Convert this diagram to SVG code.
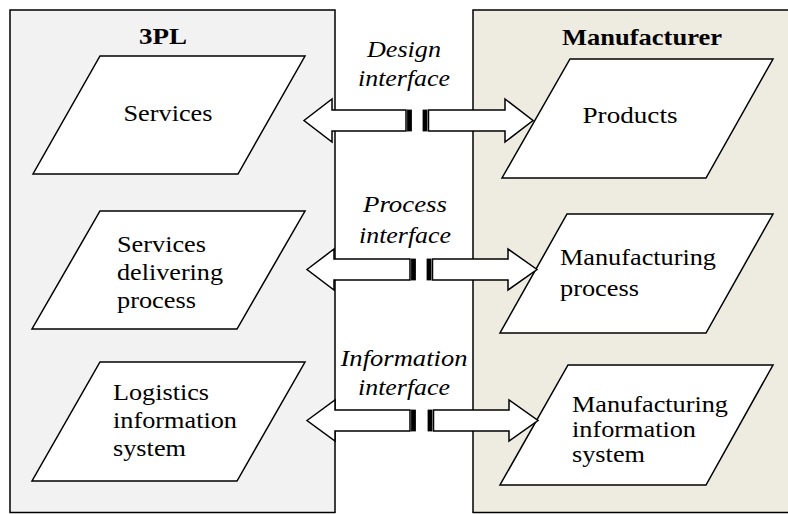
<svg xmlns="http://www.w3.org/2000/svg" width="788" height="514" viewBox="0 0 788 514">
<style>
.bg{fill:#ffffff}
.lane{stroke:#000;stroke-width:1.5}
.para{fill:#fff;stroke:#000;stroke-width:1.5;stroke-linejoin:miter}
.arr{fill:#fff;stroke:#000;stroke-width:1.5;stroke-linejoin:miter}
.stripe{fill:#000;stroke:#000;stroke-width:0.8}
text{font-family:"Liberation Serif","Times New Roman",serif;font-size:23px;fill:#000}
.title{font-weight:bold}
.lbl{font-style:italic;text-anchor:middle}
.c{text-anchor:middle}
</style>
<rect class="bg" x="0" y="0" width="788" height="514"/>
<g id="lane-3pl">
<rect class="lane" x="10" y="10" width="325" height="502.5" fill="#f2f2f2"/>
<text class="title c" x="163" y="44" textLength="48" lengthAdjust="spacingAndGlyphs">3PL</text>
</g>
<g id="lane-manufacturer">
<rect class="lane" x="473" y="10" width="330" height="502.5" fill="#eeece1"/>
<text class="title c" x="642" y="45" textLength="160" lengthAdjust="spacingAndGlyphs">Manufacturer</text>
</g>
<g id="node-services">
<polygon class="para" points="100,56 305,56 238,174 33,174"/>
<text class="c" x="168" y="121" textLength="89" lengthAdjust="spacingAndGlyphs">Services</text>
</g>
<g id="node-products">
<polygon class="para" points="570,59 773,59 706,178 502,178"/>
<text class="c" x="630" y="123" textLength="95" lengthAdjust="spacingAndGlyphs">Products</text>
</g>
<g id="node-services-delivering-process">
<polygon class="para" points="100,211 305,211 237,329 32,329"/>
<text x="117" y="252" textLength="89" lengthAdjust="spacingAndGlyphs">Services</text>
<text x="117" y="280" textLength="106" lengthAdjust="spacingAndGlyphs">delivering</text>
<text x="117" y="308" textLength="79" lengthAdjust="spacingAndGlyphs">process</text>
</g>
<g id="node-manufacturing-process">
<polygon class="para" points="567,214 773,214 706,333 500,333"/>
<text x="560" y="265" textLength="156" lengthAdjust="spacingAndGlyphs">Manufacturing</text>
<text x="560" y="296" textLength="79" lengthAdjust="spacingAndGlyphs">process</text>
</g>
<g id="node-logistics-information-system">
<polygon class="para" points="100,362 305,362 237,481 32,481"/>
<text x="113" y="400" textLength="96" lengthAdjust="spacingAndGlyphs">Logistics</text>
<text x="113" y="428" textLength="124" lengthAdjust="spacingAndGlyphs">information</text>
<text x="113" y="456" textLength="73" lengthAdjust="spacingAndGlyphs">system</text>
</g>
<g id="node-manufacturing-information-system">
<polygon class="para" points="568,365 773,365 706,485 500,485"/>
<text x="572" y="412" textLength="156" lengthAdjust="spacingAndGlyphs">Manufacturing</text>
<text x="572" y="437" textLength="124" lengthAdjust="spacingAndGlyphs">information</text>
<text x="572" y="462" textLength="73" lengthAdjust="spacingAndGlyphs">system</text>
</g>
<g id="connectors">
<g id="design-interface">
<polygon class="arr" points="304,120.5 332,99 332,110 406,110 406,131 332,131 332,142"/>
<rect class="stripe" x="407.5" y="110" width="4" height="21"/>
<polygon class="arr" points="428.5,110 505,110 505,99 533,120.5 505,142 505,131 428.5,131"/>
<rect class="stripe" x="423" y="110" width="4" height="21"/>
<text class="lbl" x="404" y="57" textLength="74" lengthAdjust="spacingAndGlyphs">Design</text>
<text class="lbl" x="404" y="86" textLength="92" lengthAdjust="spacingAndGlyphs">interface</text>
</g>
<g id="process-interface">
<polygon class="arr" points="307,269.5 334,249 334,259 410,259 410,280 334,280 334,290"/>
<rect class="stripe" x="411.5" y="259" width="4" height="21"/>
<polygon class="arr" points="432.5,259 508,259 508,249 537,269.5 508,290 508,280 432.5,280"/>
<rect class="stripe" x="427" y="259" width="4" height="21"/>
<text class="lbl" x="405" y="212" textLength="84" lengthAdjust="spacingAndGlyphs">Process</text>
<text class="lbl" x="405" y="243" textLength="92" lengthAdjust="spacingAndGlyphs">interface</text>
</g>
<g id="information-interface">
<polygon class="arr" points="307,420.5 335,400 335,410 410,410 410,431 335,431 335,441"/>
<rect class="stripe" x="411.5" y="410" width="4" height="21"/>
<polygon class="arr" points="433.5,410 509,410 509,400 538,420.5 509,441 509,431 433.5,431"/>
<rect class="stripe" x="428" y="410" width="4" height="21"/>
<text class="lbl" x="404" y="366" textLength="127" lengthAdjust="spacingAndGlyphs">Information</text>
<text class="lbl" x="404" y="395" textLength="92" lengthAdjust="spacingAndGlyphs">interface</text>
</g>
</g>
</svg>
